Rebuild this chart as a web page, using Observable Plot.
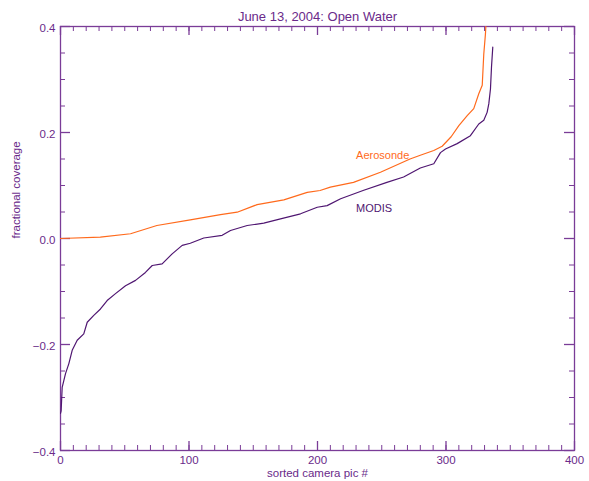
<!DOCTYPE html>
<html>
<head>
<meta charset="utf-8">
<script src="https://cdn.jsdelivr.net/npm/d3@7"></script>
<script src="https://cdn.jsdelivr.net/npm/@observablehq/plot@0.6"></script>
<style>
  html, body { margin: 0; padding: 0; background: #ffffff; }
</style>
</head>
<body>
<div id="chart"></div>
<script>
// ---- data ----
const titleText = "June 13, 2004: Open Water";
const xLabel = "sorted camera pic #";
const yLabel = "fractional coverage";

const seriesNames = ["Aerosonde", "MODIS"];

const aeroX = [0, 31, 54.5, 75, 101, 124.5, 137.5, 153, 173.8, 192, 202, 210, 228, 249, 272, 280, 290.5, 297, 304, 310, 316.5, 321.6, 325.5, 328.2, 329.4, 330.7, 331];
const aeroY = [0, 0.0025, 0.009, 0.0245, 0.035, 0.045, 0.0496, 0.064, 0.073, 0.087, 0.0906, 0.097, 0.106, 0.125, 0.150, 0.157, 0.166, 0.174, 0.192, 0.213, 0.232, 0.245, 0.273, 0.289, 0.348, 0.386, 0.40];

const modisX = [0, 0.5, 1.3, 3.9, 6.5, 9.1, 13, 18.1, 20.8, 25.9, 31.1, 36.3, 42.8, 50.6, 58.4, 66.1, 71.4, 79.1, 86.9, 94.7, 101, 111.5, 125.8, 132.3, 145.3, 158.2, 171.2, 186.8, 199.8, 207.5, 218, 236, 254, 267, 280, 290.5, 295.7, 299.6, 308.7, 319, 325.5, 329.4, 332, 333.3, 334.6, 335.4, 336.4];
const modisY = [-0.33, -0.325, -0.281, -0.255, -0.236, -0.211, -0.192, -0.180, -0.158, -0.145, -0.133, -0.117, -0.104, -0.089, -0.079, -0.064, -0.051, -0.048, -0.029, -0.013, -0.009, 0.001, 0.006, 0.015, 0.0245, 0.029, 0.037, 0.0466, 0.059, 0.062, 0.075, 0.091, 0.106, 0.116, 0.133, 0.141, 0.162, 0.169, 0.179, 0.194, 0.216, 0.223, 0.238, 0.254, 0.282, 0.323, 0.361];

// series label anchor positions (data units)
const labelX = [230, 230];
const labelY = [0.157, 0.057];

const xTicks = [0, 100, 200, 300, 400];
const yTicks = [-0.4, -0.2, 0.0, 0.2, 0.4];
const xMinorTicks = d3.range(0, 401, 10);
const yMinorTicks = d3.range(-8, 9).map(i => i * 0.05);

// ---- styles ----
const axisColor = "#7a3c97";
const textColor = "#6a2a8a";
const aeroColor = "#ff6a1c";
const modisColor = "#4f1671";
const font = "Liberation Sans, Arial, sans-serif";

const aero = aeroX.map((x, i) => ({x, y: aeroY[i]}));
const modis = modisX.map((x, i) => ({x, y: modisY[i]}));
const labels = seriesNames.map((name, i) => ({name, x: labelX[i], y: labelY[i]}));

const W = 589, H = 481;
const mL = 60, mR = 15, mT = 26, mB = 31;
const frameH = H - mT - mB;
const frameW = W - mL - mR;

const chart = Plot.plot({
  width: W,
  height: H,
  marginLeft: mL,
  marginRight: mR,
  marginTop: mT,
  marginBottom: mB,
  style: {fontFamily: font, background: "#ffffff", overflow: "visible"},
  x: {domain: [0, 400], axis: null},
  y: {domain: [-0.4, 0.4], axis: null},
  marks: [
    Plot.frame({stroke: axisColor, strokeWidth: 1.3}),
    // minor ticks on all four sides
    Plot.tickX(xMinorTicks, {x: d => d, stroke: axisColor, insetTop: frameH - 5}),
    Plot.tickX(xMinorTicks, {x: d => d, stroke: axisColor, insetBottom: frameH - 5}),
    Plot.tickY(yMinorTicks, {y: d => d, stroke: axisColor, insetRight: frameW - 5}),
    Plot.tickY(yMinorTicks, {y: d => d, stroke: axisColor, insetLeft: frameW - 5}),
    // major ticks
    Plot.tickX(xTicks, {x: d => d, stroke: axisColor, strokeWidth: 1.3, insetTop: frameH - 9}),
    Plot.tickX(xTicks, {x: d => d, stroke: axisColor, strokeWidth: 1.3, insetBottom: frameH - 9}),
    Plot.tickY(yTicks, {y: d => d, stroke: axisColor, strokeWidth: 1.3, insetRight: frameW - 10}),
    Plot.tickY(yTicks, {y: d => d, stroke: axisColor, strokeWidth: 1.3, insetLeft: frameW - 10}),
    // tick labels
    Plot.axisX(xTicks, {anchor: "bottom", tickSize: 0, tickPadding: 5, fill: textColor, fontSize: 11.5, label: null}),
    Plot.axisY(yTicks, {anchor: "left", tickSize: 0, tickPadding: 5, fill: textColor, fontSize: 11.5, label: null, tickFormat: d3.format(".1f"), dy: 2}),
    // data lines
    Plot.line(aero, {x: "x", y: "y", stroke: aeroColor, strokeWidth: 1.2, clip: true}),
    Plot.line(modis, {x: "x", y: "y", stroke: modisColor, strokeWidth: 1.2, clip: true}),
    // series labels
    Plot.text(labels, {x: "x", y: "y", text: "name", textAnchor: "start", fontSize: 11, fill: (d, i) => i === 0 ? aeroColor : modisColor}),
    // title and axis labels
    Plot.text([titleText], {frameAnchor: "top", lineAnchor: "middle", dy: -10, fontSize: 13, fill: textColor}),
    Plot.text([xLabel], {frameAnchor: "bottom", lineAnchor: "middle", dy: 23, fontSize: 11.5, fill: textColor}),
    Plot.text([yLabel], {frameAnchor: "left", lineAnchor: "middle", dx: -44, rotate: -90, fontSize: 11.5, fill: textColor})
  ]
});

document.getElementById("chart").appendChild(chart);
</script>
</body>
</html>
